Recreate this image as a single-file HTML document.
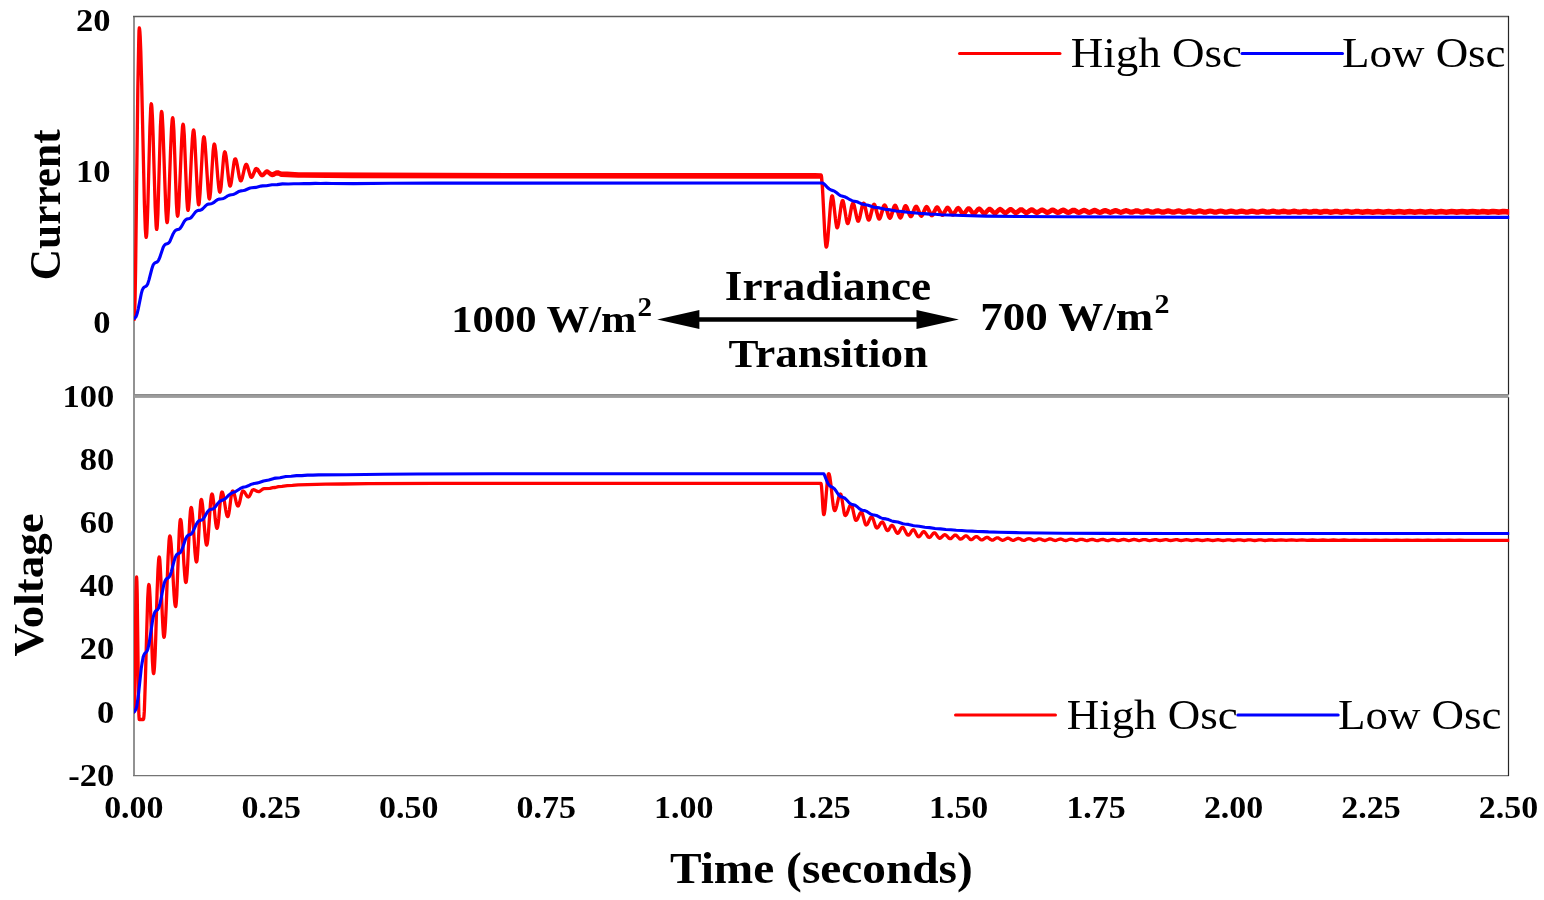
<!DOCTYPE html>
<html><head><meta charset="utf-8"><title>Current and Voltage vs Time</title>
<style>html,body{margin:0;padding:0;background:#fff;overflow:hidden;}svg{display:block;}</style>
</head><body>
<svg width="1544" height="900" viewBox="0 0 1544 900">
<rect width="1544" height="900" fill="#fff"/>
<defs><clipPath id="ct"><rect x="134" y="17" width="1375.2" height="377"/></clipPath><clipPath id="cb"><rect x="134" y="398" width="1375.2" height="377"/></clipPath></defs>
<g fill="none">
<line x1="134" y1="16" x2="134" y2="776" stroke="#929292" stroke-width="2"/>
<line x1="133" y1="16.5" x2="1509" y2="16.5" stroke="#5c5c5c" stroke-width="1.3"/>
<line x1="133" y1="775.6" x2="1509" y2="775.6" stroke="#747474" stroke-width="1.4"/>
<line x1="1508.5" y1="16" x2="1508.5" y2="394.7" stroke="#262626" stroke-width="1.2"/>
<line x1="1508.5" y1="397.1" x2="1508.5" y2="776" stroke="#262626" stroke-width="1.2"/>
<rect x="134" y="394.1" width="1374.5" height="3.8" fill="#9c9c9c" stroke="none"/>
<line x1="134" y1="394.6" x2="1508" y2="394.6" stroke="#888" stroke-width="1"/>
</g>
<g clip-path="url(#ct)" fill="none" stroke-linejoin="round" stroke-linecap="round">
<path d="M134.3 318.9L134.7 310.3L135.1 297.0L135.6 268.9L137.8 89.9L138.7 42.8L139.0 30.6L139.3 27.9L139.6 28.9L139.9 31.8L140.2 36.6L140.8 51.4L141.7 84.4L144.4 203.8L145.3 228.3L145.9 236.0L146.2 236.9L146.5 235.9L146.8 232.9L147.3 221.4L147.9 203.7L149.9 127.5L150.7 107.8L151.0 104.8L151.3 103.8L151.6 104.7L151.9 107.5L152.5 118.4L153.1 135.0L155.2 206.6L156.1 225.2L156.4 228.0L156.7 228.9L157.0 228.0L157.3 225.0L157.9 213.6L160.4 126.9L161.0 115.5L161.3 112.5L161.6 111.5L161.9 112.3L162.2 114.5L163.0 129.4L165.1 189.0L165.9 210.4L166.5 219.1L166.8 221.3L167.1 222.1L167.4 221.3L167.7 219.2L168.6 205.2L170.6 149.0L171.5 128.7L172.1 120.6L172.4 118.5L172.7 117.8L173.0 118.6L173.3 121.1L173.9 130.5L176.4 202.9L177.0 212.3L177.3 214.8L177.6 215.7L177.9 215.0L178.2 213.2L178.8 206.0L179.6 188.3L181.7 139.0L182.5 126.7L182.8 124.9L183.1 124.2L183.4 125.0L183.7 127.1L184.3 135.4L186.8 198.7L187.4 207.0L187.7 209.1L188.0 209.8L188.3 209.3L188.6 207.7L189.5 197.0L191.5 153.9L192.4 138.4L193.0 132.1L193.3 130.5L193.6 129.9L193.9 130.6L194.2 132.5L194.8 139.6L197.5 194.6L198.1 201.7L198.4 203.6L198.7 204.2L199.0 203.7L199.3 202.2L200.1 192.2L202.2 153.6L202.7 144.6L203.3 138.8L203.6 137.3L203.9 136.8L204.2 137.2L204.5 138.4L205.1 143.3L205.9 155.2L208.0 188.5L208.8 196.8L209.1 198.0L209.4 198.4L209.7 198.0L210.0 196.6L210.6 191.4L213.1 151.1L213.7 145.9L214.0 144.5L214.3 144.1L214.6 144.4L214.9 145.3L215.8 151.7L217.8 177.5L218.7 186.7L219.3 190.5L219.6 191.4L219.9 191.8L220.2 191.4L220.5 190.4L221.1 186.5L223.6 157.1L224.2 153.2L224.5 152.2L224.8 151.8L225.1 152.1L225.4 152.9L226.0 155.8L226.6 160.3L228.6 179.5L229.5 184.5L229.8 185.3L230.1 185.6L230.4 185.3L230.7 184.6L231.3 182.1L234.0 162.2L234.6 159.7L234.9 159.0L235.2 158.8L235.5 158.9L235.8 159.3L236.4 161.0L237.3 165.2L239.3 176.9L240.2 179.9L240.5 180.3L240.8 180.4L241.1 180.3L241.4 180.0L242.0 178.6L242.6 176.4L244.7 167.2L245.6 164.8L245.9 164.5L246.2 164.3L246.8 164.7L247.6 166.5L249.7 173.6L250.2 175.2L250.8 176.3L251.4 176.6L252.0 176.4L252.6 175.6L255.1 169.6L255.7 168.8L256.3 168.5L256.9 168.7L257.8 169.4L260.1 172.9L260.9 174.0L261.5 174.4L262.1 174.5L262.7 174.4L263.3 174.0L265.6 171.5L266.2 171.1L266.8 171.0L267.4 171.0L268.0 171.3L270.7 173.3L271.6 173.7L272.2 173.7L273.3 173.5L275.9 172.2L277.3 171.8L278.5 172.0L280.5 172.9L281.7 173.1L287.1 173.2L298.7 173.8L304.4 173.9L507.8 174.6L815.0 174.7L821.0 174.8L821.3 175.4L821.6 177.0L822.5 187.6L824.5 228.3L825.1 237.8L825.7 244.0L826.0 245.6L826.3 246.1L826.6 245.8L826.9 244.9L827.5 241.3L828.3 232.4L830.6 203.2L831.5 197.0L831.8 196.1L832.1 195.8L832.4 196.0L832.7 196.7L833.5 201.3L835.5 219.0L836.1 223.2L836.6 225.9L836.9 226.5L837.2 226.8L837.5 226.6L837.8 226.0L838.4 223.7L839.0 220.2L841.1 205.2L842.0 201.3L842.3 200.7L842.6 200.5L842.9 200.6L843.2 201.1L844.0 204.4L846.0 217.0L846.6 219.9L847.1 221.8L847.4 222.3L847.7 222.4L848.0 222.3L848.3 221.9L848.9 220.2L849.5 217.6L851.5 206.6L852.4 203.7L852.7 203.3L853.0 203.1L853.3 203.2L853.6 203.6L854.4 206.1L856.5 215.9L857.0 218.1L857.6 219.6L857.9 220.0L858.2 220.1L858.5 220.0L858.8 219.6L859.4 218.1L860.0 215.8L862.1 206.1L863.0 203.6L863.3 203.2L863.6 203.1L863.9 203.2L864.2 203.5L865.0 205.9L867.0 214.9L867.6 217.0L868.1 218.4L868.4 218.7L868.7 218.8L869.0 218.7L869.3 218.4L870.2 216.2L872.3 207.9L872.9 205.9L873.5 204.6L873.8 204.3L874.1 204.2L874.4 204.3L874.7 204.6L875.2 205.8L875.8 207.6L877.8 215.3L878.6 217.3L878.9 217.6L879.2 217.7L879.8 217.3L880.7 215.4L882.8 208.1L883.4 206.4L884.0 205.3L884.6 204.9L885.2 205.3L885.8 206.3L886.4 207.9L888.4 214.7L889.3 216.5L889.9 216.8L890.5 216.5L891.3 214.8L893.4 208.1L893.9 206.6L894.5 205.6L895.1 205.2L895.7 205.5L896.3 206.5L896.9 208.0L898.9 214.4L899.8 216.1L900.4 216.4L901.0 216.1L901.8 214.5L903.9 208.3L904.4 206.9L905.0 205.9L905.6 205.6L906.2 205.9L906.8 206.7L907.4 208.0L909.4 213.4L910.3 214.8L910.9 215.1L911.4 214.8L912.3 213.5L914.4 208.4L914.9 207.2L915.5 206.5L916.1 206.2L916.7 206.4L917.3 207.2L917.9 208.3L919.9 213.1L920.8 214.4L921.4 214.6L921.9 214.4L922.8 213.2L925.4 207.5L926.0 206.8L926.6 206.5L927.2 206.8L927.8 207.4L930.4 212.8L931.3 213.9L931.9 214.1L932.4 213.9L933.3 212.8L935.9 207.7L936.5 207.1L937.1 206.9L937.7 207.1L938.3 207.7L940.9 212.5L941.8 213.5L942.4 213.7L942.9 213.5L943.8 212.6L946.4 208.0L947.0 207.4L947.6 207.2L948.2 207.4L948.8 207.9L951.4 212.3L952.3 213.2L952.9 213.4L953.4 213.2L954.3 212.3L956.9 208.2L957.5 207.7L958.1 207.5L958.7 207.6L959.6 208.5L962.2 212.4L962.8 212.8L963.4 213.0L963.9 212.9L964.5 212.4L967.1 208.7L968.0 207.9L968.6 207.8L969.2 207.9L970.1 208.6L972.7 212.1L973.3 212.5L973.9 212.7L974.4 212.5L975.0 212.1L977.6 208.9L978.5 208.2L979.1 208.0L979.7 208.2L980.6 208.8L983.2 211.9L983.8 212.3L984.4 212.4L984.9 212.3L985.5 211.9L988.1 209.0L989.0 208.4L989.6 208.3L990.2 208.4L991.1 209.0L993.7 211.7L994.3 212.0L994.9 212.1L995.4 212.0L996.0 211.7L998.6 209.1L999.5 208.6L1000.1 208.5L1000.7 208.6L1001.6 209.1L1004.2 211.5L1004.8 211.8L1005.4 211.9L1005.9 211.8L1006.5 211.5L1009.1 209.2L1010.0 208.7L1010.6 208.6L1011.2 208.7L1012.1 209.2L1014.7 211.4L1015.3 211.7L1015.9 211.8L1016.4 211.7L1017.0 211.4L1019.6 209.3L1020.5 208.8L1021.1 208.8L1021.7 208.8L1022.6 209.3L1025.2 211.3L1026.3 211.6L1027.5 211.3L1030.1 209.4L1031.0 209.0L1031.6 208.9L1032.8 209.2L1035.4 211.1L1036.3 211.5L1036.8 211.5L1037.4 211.5L1038.3 211.1L1040.9 209.3L1042.1 209.0L1043.3 209.3L1045.9 211.0L1046.8 211.4L1047.3 211.5L1047.9 211.4L1048.8 211.1L1051.4 209.4L1052.6 209.1L1053.8 209.4L1056.4 211.0L1057.3 211.4L1057.8 211.4L1058.4 211.4L1059.3 211.0L1061.9 209.5L1063.1 209.2L1064.3 209.4L1066.9 211.0L1067.8 211.3L1068.3 211.4L1068.9 211.3L1069.8 211.0L1072.4 209.5L1073.6 209.3L1074.8 209.5L1077.4 211.0L1078.3 211.3L1078.8 211.4L1080.3 211.0L1082.9 209.6L1084.1 209.4L1085.3 209.6L1087.9 211.0L1089.3 211.3L1090.8 211.0L1093.4 209.7L1094.6 209.5L1095.8 209.7L1098.4 211.0L1099.8 211.3L1101.3 211.0L1103.9 209.8L1105.1 209.6L1106.6 209.9L1109.2 211.1L1110.3 211.3L1111.5 211.1L1114.1 209.9L1115.6 209.7L1117.1 209.9L1119.7 211.1L1120.8 211.3L1122.0 211.1L1124.6 210.0L1126.1 209.7L1127.6 210.0L1130.2 211.1L1131.3 211.2L1132.8 211.0L1135.4 210.0L1136.6 209.8L1138.1 210.0L1140.7 211.1L1141.8 211.2L1143.0 211.1L1145.6 210.1L1147.1 209.8L1148.3 210.0L1150.9 211.0L1152.3 211.2L1153.5 211.1L1156.1 210.1L1157.6 209.9L1158.8 210.0L1161.4 211.0L1162.8 211.2L1164.3 211.0L1166.9 210.1L1168.1 209.9L1169.3 210.1L1171.9 211.0L1173.3 211.2L1174.8 211.0L1177.4 210.1L1178.6 209.9L1180.1 210.2L1182.7 211.1L1183.8 211.2L1185.3 211.0L1187.9 210.1L1189.1 210.0L1190.3 210.1L1192.9 211.0L1194.3 211.2L1195.5 211.1L1198.1 210.2L1199.6 210.0L1201.1 210.2L1203.7 211.1L1204.8 211.2L1206.0 211.1L1208.6 210.3L1210.1 210.1L1211.6 210.3L1214.2 211.1L1215.3 211.2L1216.5 211.1L1219.1 210.3L1220.6 210.1L1222.1 210.3L1224.7 211.1L1225.8 211.2L1227.0 211.1L1229.6 210.3L1231.1 210.1L1232.6 210.3L1235.2 211.1L1236.3 211.2L1237.5 211.1L1240.1 210.3L1241.6 210.1L1243.1 210.3L1245.7 211.1L1246.8 211.2L1248.0 211.1L1250.6 210.3L1252.1 210.2L1253.6 210.3L1256.2 211.1L1257.3 211.2L1258.5 211.1L1261.1 210.4L1262.6 210.2L1264.1 210.4L1266.7 211.1L1267.8 211.2L1269.3 211.0L1271.9 210.3L1273.1 210.2L1274.3 210.3L1276.9 211.0L1278.3 211.2L1279.8 211.0L1282.4 210.3L1283.6 210.2L1284.8 210.3L1287.4 211.0L1288.8 211.2L1290.3 211.0L1292.9 210.3L1294.1 210.2L1295.3 210.3L1297.9 211.0L1299.3 211.1L1300.8 211.0L1303.4 210.4L1304.6 210.3L1306.1 210.4L1308.7 211.0L1309.8 211.1L1311.0 211.0L1313.6 210.4L1315.1 210.3L1316.6 210.4L1319.2 211.0L1320.3 211.1L1321.5 211.0L1324.1 210.4L1325.6 210.3L1327.1 210.4L1329.7 211.0L1330.8 211.1L1332.3 211.0L1334.9 210.4L1336.1 210.3L1337.3 210.4L1339.9 211.0L1341.3 211.1L1342.8 211.0L1345.4 210.4L1346.6 210.3L1347.8 210.4L1350.4 211.0L1351.8 211.1L1353.3 211.0L1355.9 210.4L1357.1 210.3L1358.3 210.4L1360.9 211.0L1362.3 211.1L1367.6 210.4L1372.8 211.1L1378.1 210.4L1383.3 211.1L1388.6 210.4L1393.8 211.1L1399.1 210.4L1404.3 211.1L1409.6 210.4L1414.8 211.1L1420.1 210.4L1425.3 211.1L1430.6 210.4L1435.8 211.1L1441.1 210.4L1446.3 211.1L1451.6 210.4L1456.8 211.0L1462.1 210.4L1467.3 211.0L1472.6 210.4L1477.6 211.0L1479.0 211.0L1481.6 210.5L1483.1 210.4L1488.1 211.0L1489.5 210.9L1492.1 210.5L1493.6 210.4L1498.6 211.0L1500.0 210.9L1502.6 210.5L1504.1 210.4L1509.3 211.0L1509.3 213.3L1504.1 212.7L1502.6 212.8L1500.0 213.2L1498.6 213.3L1493.6 212.7L1492.1 212.8L1489.5 213.2L1488.1 213.3L1483.1 212.7L1481.6 212.8L1479.0 213.2L1477.6 213.3L1472.6 212.7L1467.3 213.3L1462.1 212.7L1456.8 213.3L1451.6 212.7L1446.3 213.3L1441.1 212.6L1435.8 213.3L1430.6 212.6L1425.3 213.3L1420.1 212.6L1414.8 213.3L1409.6 212.6L1404.3 213.3L1399.1 212.6L1393.8 213.3L1388.6 212.6L1383.3 213.3L1378.1 212.5L1372.8 213.3L1367.6 212.5L1362.3 213.3L1361.2 213.2L1358.6 212.6L1357.1 212.5L1355.6 212.6L1353.0 213.2L1351.8 213.3L1350.7 213.2L1348.1 212.6L1346.6 212.5L1345.1 212.6L1342.5 213.2L1341.3 213.3L1340.2 213.2L1337.6 212.6L1336.1 212.4L1334.6 212.6L1332.0 213.2L1330.8 213.3L1329.4 213.1L1326.8 212.5L1325.6 212.4L1324.4 212.5L1321.8 213.1L1320.3 213.3L1318.9 213.1L1316.3 212.5L1315.1 212.4L1313.9 212.5L1311.3 213.1L1309.8 213.2L1308.4 213.1L1305.8 212.5L1304.6 212.4L1303.1 212.5L1300.5 213.1L1299.3 213.2L1298.2 213.1L1295.6 212.5L1294.1 212.3L1292.6 212.5L1290.0 213.1L1288.8 213.2L1287.7 213.1L1285.1 212.5L1283.6 212.3L1282.1 212.5L1279.5 213.1L1278.3 213.2L1277.2 213.1L1274.6 212.4L1273.1 212.3L1271.6 212.4L1269.0 213.1L1267.8 213.2L1266.4 213.1L1263.8 212.3L1262.6 212.2L1261.4 212.3L1258.8 213.0L1257.3 213.2L1255.9 213.0L1253.3 212.3L1252.1 212.2L1250.9 212.3L1248.3 213.0L1246.8 213.2L1245.4 213.0L1242.8 212.3L1241.6 212.2L1240.4 212.3L1237.8 213.0L1236.3 213.2L1234.9 213.0L1232.3 212.3L1231.1 212.1L1229.9 212.3L1227.3 213.0L1225.8 213.2L1224.4 213.0L1221.8 212.2L1220.6 212.1L1219.4 212.2L1216.8 213.0L1215.3 213.2L1213.9 213.0L1211.3 212.2L1210.1 212.1L1208.9 212.2L1206.3 213.0L1204.8 213.2L1203.4 213.0L1200.8 212.2L1199.6 212.0L1198.1 212.2L1195.5 213.1L1194.3 213.2L1192.9 213.0L1190.3 212.1L1189.1 212.0L1187.9 212.1L1185.3 213.0L1183.8 213.2L1182.7 213.1L1180.1 212.2L1178.6 211.9L1177.4 212.1L1174.8 213.0L1173.3 213.2L1171.9 213.0L1169.3 212.1L1168.1 211.9L1166.9 212.1L1164.3 213.0L1162.8 213.2L1161.4 213.0L1158.8 212.0L1157.6 211.9L1156.1 212.1L1153.5 213.1L1152.3 213.2L1150.9 213.0L1148.3 212.0L1147.1 211.8L1145.6 212.1L1143.0 213.1L1141.8 213.2L1140.7 213.1L1138.1 212.0L1136.6 211.8L1135.4 212.0L1132.8 213.0L1131.3 213.2L1129.9 213.0L1127.3 211.9L1126.1 211.7L1124.9 211.9L1122.3 213.0L1120.8 213.3L1119.4 213.0L1116.8 211.9L1115.6 211.7L1114.4 211.9L1111.8 213.0L1110.3 213.3L1108.9 213.0L1106.3 211.8L1105.1 211.6L1103.6 211.9L1101.0 213.2L1099.8 213.4L1098.7 213.2L1096.1 211.9L1094.6 211.6L1093.1 211.9L1090.5 213.2L1089.3 213.4L1088.2 213.2L1085.6 211.8L1084.1 211.5L1082.6 211.8L1080.0 213.2L1078.8 213.5L1077.7 213.2L1075.1 211.8L1074.2 211.5L1073.6 211.4L1073.0 211.5L1072.1 211.8L1069.5 213.2L1068.3 213.5L1067.2 213.2L1064.6 211.7L1063.7 211.3L1063.1 211.3L1062.5 211.3L1061.6 211.7L1059.0 213.2L1057.8 213.5L1056.7 213.2L1054.1 211.5L1053.2 211.2L1052.6 211.1L1052.0 211.2L1051.1 211.5L1048.5 213.2L1047.3 213.5L1046.2 213.2L1043.6 211.4L1042.7 211.0L1042.1 211.0L1041.5 211.0L1040.6 211.4L1038.0 213.2L1036.8 213.5L1035.7 213.2L1033.1 211.3L1032.2 210.9L1031.6 210.8L1030.4 211.1L1027.8 213.1L1026.9 213.5L1026.3 213.5L1025.8 213.5L1024.9 213.0L1022.3 211.0L1021.1 210.6L1020.5 210.7L1019.9 211.0L1017.3 213.1L1016.4 213.5L1015.9 213.6L1015.3 213.5L1014.4 213.0L1011.8 210.8L1011.2 210.6L1010.6 210.5L1010.0 210.6L1009.4 210.9L1006.8 213.1L1005.9 213.6L1005.4 213.7L1004.8 213.6L1003.9 213.1L1001.3 210.7L1000.7 210.4L1000.1 210.3L999.5 210.4L998.9 210.7L996.3 213.3L995.4 213.8L994.9 213.9L994.3 213.8L993.4 213.2L990.8 210.5L990.2 210.2L989.6 210.1L989.0 210.2L988.4 210.5L985.8 213.4L984.9 214.0L984.4 214.1L983.8 214.0L982.9 213.4L980.3 210.3L979.7 209.9L979.1 209.8L978.5 209.9L977.9 210.3L975.3 213.6L974.4 214.3L973.9 214.4L973.3 214.3L972.4 213.6L969.8 210.1L969.2 209.7L968.6 209.5L968.0 209.7L967.4 210.1L964.8 213.8L963.9 214.6L963.4 214.7L962.8 214.6L961.9 213.8L959.3 209.9L958.7 209.4L958.1 209.2L957.5 209.4L956.6 210.3L954.0 214.4L953.4 214.9L952.9 215.1L952.3 214.9L951.7 214.4L949.1 210.0L948.2 209.1L947.6 208.9L947.0 209.1L946.1 210.1L943.5 214.7L942.9 215.2L942.4 215.4L941.8 215.2L941.2 214.6L938.6 209.8L937.7 208.8L937.1 208.6L936.5 208.8L935.6 209.9L933.0 215.0L932.4 215.6L931.9 215.8L931.3 215.6L930.7 214.9L928.1 209.6L927.2 208.4L926.6 208.2L926.0 208.5L925.1 209.7L922.5 215.3L921.9 216.0L921.4 216.3L920.8 216.0L920.2 215.3L919.6 214.2L917.6 209.3L916.7 208.1L916.1 207.8L915.5 208.1L914.6 209.4L912.6 214.5L912.0 215.7L911.4 216.5L910.9 216.7L910.3 216.4L909.7 215.6L909.1 214.4L907.1 208.9L906.2 207.5L905.6 207.2L905.0 207.5L904.2 209.1L902.1 215.3L901.6 216.7L901.0 217.7L900.4 218.0L899.8 217.7L899.2 216.7L898.6 215.2L896.6 208.8L895.7 207.1L895.1 206.8L894.5 207.1L893.7 208.9L891.6 215.5L891.1 217.0L890.5 218.0L889.9 218.4L889.3 218.0L888.7 217.0L888.1 215.4L886.1 208.6L885.2 206.8L884.6 206.5L884.3 206.5L884.0 206.8L883.1 208.7L881.0 216.0L880.4 217.6L879.8 218.7L879.5 219.0L879.2 219.1L878.9 219.0L878.6 218.7L878.1 217.5L877.5 215.7L875.5 208.0L874.7 206.0L874.4 205.7L874.1 205.6L873.8 205.7L873.5 206.0L872.6 208.2L870.5 216.5L869.9 218.5L869.3 219.7L869.0 220.1L868.7 220.2L868.4 220.0L868.1 219.7L867.3 217.3L865.3 208.3L864.7 206.2L864.2 204.8L863.9 204.5L863.6 204.3L863.3 204.5L863.0 204.8L862.4 206.3L861.8 208.6L859.7 218.3L858.8 220.8L858.5 221.2L858.2 221.3L857.9 221.2L857.6 220.8L856.8 218.3L854.7 208.5L854.2 206.3L853.6 204.8L853.3 204.4L853.0 204.3L852.7 204.4L852.4 204.9L851.8 206.5L851.2 209.1L849.2 220.1L848.3 223.0L848.0 223.4L847.7 223.6L847.4 223.4L847.1 222.9L846.3 219.6L844.3 207.0L843.7 204.1L843.2 202.2L842.9 201.7L842.6 201.5L842.3 201.7L842.0 202.3L841.4 204.6L840.8 208.1L838.7 223.1L837.8 227.0L837.5 227.6L837.2 227.8L836.9 227.6L836.6 226.9L835.8 222.3L833.8 204.6L833.2 200.4L832.7 197.7L832.4 197.0L832.1 196.8L831.8 197.1L831.5 198.0L830.9 201.6L830.1 210.5L827.8 239.7L826.9 245.9L826.6 246.8L826.3 247.1L826.0 246.6L825.7 245.0L824.8 234.5L822.8 194.3L822.2 185.0L821.6 178.9L821.3 177.3L821.0 176.8L815.0 177.0L515.9 176.9L351.6 176.5L303.8 176.2L298.4 176.1L287.4 175.6L281.7 175.4L280.5 175.1L278.5 174.1L277.3 173.9L275.9 174.1L273.3 175.4L272.5 175.5L271.9 175.5L270.7 175.0L268.0 172.8L266.8 172.4L266.2 172.6L265.6 172.9L263.3 175.3L262.7 175.6L262.1 175.8L261.5 175.6L260.7 174.8L258.3 171.2L257.5 170.1L256.9 169.6L256.3 169.5L255.7 169.7L255.1 170.5L252.6 176.3L252.0 177.1L251.4 177.4L250.8 177.0L250.0 175.1L247.9 168.0L247.4 166.3L246.8 165.2L246.2 164.9L245.9 165.0L245.6 165.3L245.0 166.7L244.4 168.9L242.3 178.1L241.4 180.5L241.1 180.8L240.8 180.9L240.5 180.8L240.2 180.4L239.3 177.4L237.3 165.7L236.4 161.5L235.8 159.8L235.5 159.4L235.2 159.2L234.9 159.5L234.6 160.2L234.0 162.7L231.3 182.6L230.7 185.1L230.4 185.8L230.1 186.1L229.8 185.8L229.5 185.0L228.6 180.0L226.6 160.8L226.0 156.3L225.4 153.4L225.1 152.6L224.8 152.3L224.5 152.7L224.2 153.7L223.6 157.6L221.1 187.0L220.5 190.9L220.2 191.9L219.9 192.2L219.6 191.9L219.3 191.0L218.7 187.2L217.8 178.0L215.8 152.2L214.9 145.8L214.6 144.9L214.3 144.6L214.0 145.0L213.7 146.4L213.1 151.6L210.6 191.9L210.0 197.1L209.7 198.5L209.4 198.9L209.1 198.5L208.8 197.3L208.0 189.0L205.9 155.7L205.1 143.8L204.5 138.9L204.2 137.7L203.9 137.2L203.6 137.8L203.3 139.3L202.7 145.1L202.2 154.1L200.1 192.7L199.3 202.7L199.0 204.2L198.7 204.8L198.4 204.1L198.1 202.2L197.5 195.1L194.8 140.1L194.2 133.0L193.9 131.1L193.6 130.4L193.3 131.0L193.0 132.6L192.4 138.9L191.5 154.4L189.5 197.5L188.6 208.2L188.3 209.8L188.0 210.3L187.7 209.6L187.4 207.5L186.8 199.2L184.3 135.9L183.7 127.6L183.4 125.5L183.1 124.8L182.8 125.4L182.5 127.2L181.7 139.5L179.6 188.8L178.8 206.5L178.2 213.7L177.9 215.5L177.6 216.2L177.3 215.3L177.0 212.8L176.4 203.4L173.9 131.0L173.3 121.6L173.0 119.1L172.7 118.2L172.4 119.0L172.1 121.1L171.5 129.2L170.6 149.5L168.6 205.7L167.7 219.7L167.4 221.8L167.1 222.6L166.8 221.8L166.5 219.6L165.9 210.9L165.1 189.5L163.0 129.9L162.2 115.0L161.9 112.8L161.6 112.0L161.3 113.0L161.0 116.0L160.4 127.4L157.9 214.1L157.3 225.5L157.0 228.5L156.7 229.4L156.4 228.5L156.1 225.7L155.2 207.1L153.1 135.5L152.5 118.9L151.9 108.0L151.6 105.2L151.3 104.2L151.0 105.3L150.7 108.3L149.9 128.0L147.9 204.2L147.3 221.9L146.8 233.4L146.5 236.4L146.2 237.4L145.9 236.5L145.3 228.8L144.4 204.3L141.7 84.9L140.8 51.9L140.2 37.1L139.9 32.3L139.6 29.4L139.3 28.4L139.0 31.1L138.7 43.3L137.8 90.4L135.6 269.4L135.1 297.5L134.7 310.8L134.3 319.4Z" fill="#ff0000" stroke="#ff0000" stroke-width="3.30"/>
<path d="M134.0 318.4L135.0 317.8L135.8 317.0L136.5 315.6L137.2 313.3L138.2 309.1L140.8 296.1L141.5 292.8L142.2 290.3L142.8 289.1L143.5 287.8L144.2 287.1L145.8 286.4L146.5 285.8L147.2 284.8L147.8 283.7L148.2 282.4L149.0 279.9L151.8 269.0L152.5 266.7L153.2 264.9L153.8 264.0L154.5 263.2L155.2 262.7L156.5 262.3L157.2 261.9L158.0 261.1L158.5 260.3L159.0 259.3L159.8 257.4L162.8 248.4L163.5 246.7L164.2 245.5L164.8 244.9L165.5 244.3L167.8 243.6L168.5 243.1L169.0 242.6L169.5 242.0L170.2 240.7L173.2 233.7L174.5 231.5L175.2 230.7L176.0 230.1L176.8 229.8L178.8 229.3L179.5 228.9L180.0 228.5L181.2 226.9L184.2 221.5L185.0 220.5L185.8 219.7L186.2 219.4L187.0 219.0L189.5 218.5L190.2 218.2L190.8 217.9L192.0 216.6L194.8 212.9L195.5 212.0L196.2 211.3L197.5 210.6L198.2 210.4L200.5 210.1L201.8 209.5L203.0 208.5L205.8 205.6L207.2 204.5L208.5 204.1L211.0 203.8L212.2 203.4L213.5 202.7L216.5 200.3L218.0 199.4L219.2 199.1L222.0 198.8L223.5 198.4L224.8 197.8L227.2 196.2L228.5 195.5L230.0 195.0L232.8 194.5L234.0 194.2L235.2 193.6L238.2 191.8L239.5 191.3L240.8 190.9L243.5 190.5L244.8 190.2L246.0 189.7L248.8 188.5L250.2 188.0L251.8 187.8L255.8 187.4L261.0 186.1L262.5 185.9L266.5 185.7L272.0 184.8L277.2 184.6L282.5 183.9L288.2 184.0L293.8 183.7L299.0 183.8L304.2 183.6L309.8 183.6L315.5 183.4L320.5 183.5L326.0 183.4L331.5 183.5L353.5 183.6L390.8 183.2L434.5 183.1L821.5 183.0L822.8 183.1L823.5 183.5L824.8 184.7L827.8 187.8L829.2 189.0L830.5 189.7L833.2 190.7L834.8 191.4L836.0 192.3L838.8 194.5L840.2 195.5L841.8 196.1L844.5 196.8L845.8 197.3L847.2 198.0L850.0 199.7L851.5 200.4L853.0 200.9L855.8 201.5L857.0 201.8L858.2 202.3L861.2 203.7L863.0 204.3L868.2 205.3L872.5 206.7L874.2 207.2L879.5 207.9L885.0 209.3L890.5 209.9L896.2 211.0L901.8 211.5L907.5 212.3L913.0 212.7L918.5 213.3L924.0 213.6L929.8 214.1L935.2 214.3L940.8 214.7L963.2 215.5L986.0 216.1L1019.2 216.5L1064.2 216.8L1131.0 217.0L1220.5 217.2L1509.0 217.4" stroke="#0000ff" stroke-width="3.10"/>
</g>
<g clip-path="url(#cb)" fill="none" stroke-linejoin="round" stroke-linecap="round">
<path d="M134.0 712.0L134.3 707.9L134.6 696.2L136.0 592.8L136.3 581.1L136.6 577.0L136.9 581.3L137.2 593.7L138.3 683.9L138.6 702.8L138.9 715.2L139.2 719.5L143.4 719.5L143.7 718.6L144.0 715.8L144.3 711.4L144.8 697.7L145.4 679.1L146.9 624.9L147.7 598.7L148.3 588.2L148.6 585.4L148.9 584.5L149.2 585.4L149.5 587.9L150.1 597.5L152.4 660.6L153.0 670.2L153.3 672.7L153.6 673.6L153.9 672.8L154.2 670.4L154.5 666.6L155.1 654.8L155.7 638.7L157.1 591.9L158.0 569.3L158.6 560.2L158.9 557.8L159.2 557.0L159.5 557.7L159.8 559.7L160.3 567.5L160.9 579.3L162.3 615.0L162.9 626.8L163.4 634.6L163.7 636.6L164.0 637.3L164.3 636.7L164.6 634.8L164.9 631.8L165.5 622.5L166.1 609.6L168.1 556.9L169.0 541.5L169.3 538.5L169.6 536.6L169.9 536.0L170.2 536.5L170.5 537.9L171.1 543.4L172.0 557.1L173.5 585.4L174.1 595.1L174.7 602.3L175.0 604.6L175.3 606.0L175.6 606.5L175.9 605.8L176.2 603.6L176.8 595.1L177.3 582.4L178.8 543.6L179.3 530.9L179.9 522.4L180.2 520.2L180.5 519.5L180.8 519.9L181.1 521.2L181.4 523.3L181.9 529.7L182.5 538.3L183.9 563.7L184.8 575.9L185.3 580.8L185.6 582.1L185.9 582.5L186.2 581.9L186.5 580.2L187.1 573.7L187.7 563.8L189.7 520.9L190.3 512.5L190.6 509.8L190.9 508.1L191.2 507.5L191.5 507.9L191.8 509.1L192.4 513.9L193.0 521.1L195.0 552.3L195.6 558.3L195.9 560.4L196.2 561.6L196.5 562.0L196.8 561.5L197.1 559.9L197.6 553.8L198.2 544.7L199.9 511.9L200.5 504.2L200.7 501.6L201.0 500.0L201.3 499.5L201.6 499.8L201.9 500.9L202.5 504.8L203.1 510.9L205.2 536.9L205.8 542.0L206.1 543.6L206.4 544.7L206.7 545.0L207.0 544.6L207.3 543.5L207.9 539.0L208.5 532.2L210.5 503.1L211.1 497.4L211.4 495.5L211.7 494.4L212.0 494.0L212.3 494.3L212.6 495.2L212.9 496.6L213.8 503.5L215.2 518.8L215.8 523.8L216.4 527.1L216.7 528.0L217.0 528.3L217.3 528.0L217.6 527.1L218.2 523.6L218.8 518.2L220.2 502.1L220.8 496.7L221.4 493.2L221.7 492.3L222.0 492.0L222.3 492.2L222.6 492.7L223.2 494.6L224.1 499.4L225.6 509.2L226.2 512.6L226.8 515.1L227.1 515.9L227.4 516.4L227.7 516.6L228.0 516.4L228.3 515.7L228.9 513.3L229.5 509.5L230.9 498.1L231.5 494.3L232.1 491.9L232.4 491.2L232.7 491.0L233.0 491.1L233.3 491.5L233.6 492.0L234.2 493.7L236.2 502.2L236.8 504.2L237.4 505.5L237.7 505.9L238.0 506.0L238.3 505.9L238.6 505.5L239.2 504.0L239.8 501.8L241.2 495.2L241.8 493.0L242.4 491.5L242.7 491.1L243.0 491.0L243.6 491.2L244.2 491.7L244.8 492.5L246.8 495.9L247.7 496.8L248.3 497.0L248.9 496.8L249.5 496.0L250.1 495.0L251.8 491.2L252.4 490.2L253.0 489.8L253.6 489.7L254.2 489.8L255.1 490.2L257.5 491.4L258.4 491.6L259.0 491.6L259.9 491.3L262.5 489.2L263.1 488.9L263.7 488.7L269.9 488.3L272.8 487.7L275.2 487.5L278.4 486.7L282.0 486.4L287.3 485.7L292.4 485.4L298.2 484.9L307.5 484.7L325.5 484.1L342.6 484.0L368.3 483.7L435.0 483.4L820.9 483.4L821.2 484.2L821.5 486.4L822.1 494.2L822.9 508.2L823.2 511.6L823.5 513.8L823.8 514.6L824.1 514.3L824.4 513.2L825.0 509.2L825.5 503.2L827.0 485.0L827.5 479.0L828.1 475.0L828.4 473.9L828.7 473.6L829.0 473.8L829.3 474.5L829.9 477.1L830.8 483.7L832.3 497.8L833.2 505.2L833.8 508.6L834.1 509.7L834.4 510.4L834.7 510.6L835.0 510.5L835.3 510.2L835.9 508.8L836.8 505.6L838.3 499.0L838.9 496.7L839.5 495.0L839.8 494.4L840.1 494.1L840.4 494.0L840.7 494.2L841.0 494.7L841.6 496.8L842.1 500.0L843.6 509.5L844.1 512.7L844.7 514.8L845.0 515.3L845.3 515.5L845.9 515.2L846.2 514.9L846.8 513.9L847.6 511.8L849.1 507.6L849.9 505.7L850.5 505.0L851.1 504.7L851.4 504.8L851.7 505.2L852.3 506.7L852.8 509.1L854.6 517.3L855.1 519.2L855.4 519.9L855.7 520.3L856.0 520.4L856.3 520.3L856.6 520.2L857.2 519.5L857.8 518.4L859.8 513.7L860.4 512.8L860.7 512.5L861.3 512.3L861.6 512.4L861.9 512.7L862.5 514.0L863.0 515.8L864.8 522.5L865.3 524.0L865.9 524.9L866.2 525.0L866.5 524.9L866.8 524.8L867.4 524.1L868.0 523.0L870.1 518.4L870.7 517.5L871.0 517.2L871.6 517.0L871.9 517.1L872.2 517.3L872.8 518.3L873.4 519.8L875.4 526.0L876.0 527.3L876.6 527.9L876.9 528.0L877.2 528.0L877.5 527.8L878.1 527.3L878.7 526.5L880.7 523.1L881.6 522.2L882.2 522.0L882.8 522.3L883.4 523.0L884.0 524.1L886.1 529.1L886.7 530.0L887.3 530.5L887.6 530.6L887.9 530.5L888.5 530.1L889.0 529.3L890.5 526.7L891.0 525.9L891.6 525.5L892.2 525.4L892.8 525.8L893.7 527.0L895.7 531.1L896.6 532.5L897.2 533.1L897.5 533.3L898.1 533.2L898.4 533.1L898.9 532.4L901.0 528.6L901.5 527.8L902.1 527.4L902.7 527.3L903.3 527.7L903.9 528.5L904.5 529.5L906.5 533.6L907.1 534.4L907.7 535.0L908.3 535.2L908.6 535.2L909.2 534.8L910.1 533.7L911.5 531.2L912.1 530.4L912.7 529.9L913.3 529.7L913.9 529.9L914.7 530.8L916.7 534.7L917.6 536.1L918.1 536.6L918.7 536.8L919.3 536.6L919.9 536.1L922.6 532.3L923.2 531.8L923.8 531.6L924.4 531.8L924.9 532.2L925.8 533.4L927.8 536.5L928.6 537.3L929.2 537.5L929.8 537.3L930.4 536.9L933.1 533.4L933.7 533.0L934.3 532.8L934.9 532.9L935.7 533.7L937.7 536.7L938.6 537.7L939.1 538.2L939.7 538.3L940.3 538.2L940.9 537.8L943.6 535.2L944.2 534.8L944.8 534.7L945.4 534.8L945.9 535.1L946.8 535.9L948.8 538.1L949.3 538.5L949.9 538.7L950.5 538.7L951.1 538.4L952.0 537.7L954.1 535.6L954.7 535.2L955.3 535.1L955.9 535.2L956.4 535.5L957.3 536.3L959.3 538.5L959.8 538.9L960.4 539.1L961.0 539.1L961.9 538.7L964.5 536.4L965.4 535.9L966.0 535.8L966.5 535.9L967.1 536.2L967.7 536.8L969.7 538.9L970.3 539.4L970.9 539.6L971.5 539.6L972.4 539.3L975.0 537.1L975.9 536.7L976.5 536.6L977.0 536.7L977.6 537.0L980.2 539.3L980.8 539.7L981.4 539.9L982.0 539.9L982.9 539.6L985.5 537.8L986.4 537.4L987.0 537.3L987.5 537.4L988.1 537.6L990.7 539.6L991.6 540.0L992.2 540.1L992.8 540.1L993.4 539.9L996.0 538.2L996.9 537.9L997.5 537.8L998.0 537.9L998.6 538.1L1001.2 539.8L1001.8 540.1L1002.4 540.3L1003.0 540.3L1003.9 540.0L1006.5 538.6L1007.4 538.2L1008.0 538.2L1008.5 538.2L1009.1 538.4L1011.7 540.0L1012.9 540.3L1013.5 540.3L1014.4 540.1L1017.0 538.8L1017.9 538.5L1018.5 538.4L1019.0 538.5L1019.9 538.8L1022.5 540.2L1023.7 540.4L1024.3 540.4L1025.2 540.1L1027.8 538.8L1029.0 538.6L1030.1 538.8L1032.7 540.1L1033.6 540.4L1034.2 540.5L1034.8 540.4L1035.7 540.2L1038.3 539.0L1039.5 538.8L1040.6 539.0L1043.2 540.2L1044.1 540.4L1044.7 540.5L1045.9 540.3L1048.5 539.2L1049.4 538.9L1050.0 538.9L1051.1 539.1L1053.7 540.2L1054.9 540.5L1055.5 540.5L1056.4 540.3L1059.0 539.3L1059.9 539.1L1060.5 539.0L1061.6 539.2L1064.2 540.3L1065.1 540.5L1065.7 540.5L1067.2 540.3L1069.8 539.3L1071.0 539.2L1072.1 539.3L1074.7 540.3L1076.2 540.6L1077.7 540.3L1080.3 539.4L1081.5 539.3L1082.9 539.5L1085.5 540.4L1086.7 540.6L1087.9 540.5L1090.5 539.6L1092.0 539.4L1093.1 539.5L1095.7 540.4L1097.2 540.6L1098.4 540.5L1101.0 539.6L1102.5 539.4L1103.6 539.5L1106.2 540.4L1107.7 540.6L1108.9 540.5L1111.5 539.7L1113.0 539.5L1114.4 539.7L1117.0 540.5L1118.2 540.6L1119.7 540.4L1122.3 539.6L1123.5 539.5L1124.9 539.7L1127.5 540.4L1128.7 540.6L1130.2 540.4L1132.8 539.7L1134.0 539.5L1135.4 539.7L1138.0 540.4L1139.2 540.6L1140.4 540.4L1143.0 539.7L1144.5 539.6L1145.6 539.7L1148.2 540.4L1149.7 540.6L1150.9 540.4L1153.5 539.8L1155.0 539.6L1156.1 539.7L1158.7 540.4L1160.2 540.5L1161.4 540.4L1164.0 539.8L1165.5 539.6L1166.6 539.7L1169.2 540.4L1170.7 540.5L1171.9 540.4L1174.5 539.8L1176.0 539.6L1177.1 539.7L1179.7 540.4L1181.2 540.5L1182.4 540.4L1185.0 539.8L1186.5 539.7L1187.9 539.8L1190.5 540.4L1191.7 540.5L1192.9 540.4L1195.5 539.8L1197.0 539.7L1198.4 539.8L1201.0 540.4L1202.2 540.5L1203.7 540.4L1206.3 539.8L1207.5 539.7L1208.9 539.9L1211.5 540.4L1212.7 540.5L1214.2 540.4L1216.8 539.8L1218.0 539.7L1219.1 539.8L1221.7 540.3L1223.2 540.5L1224.7 540.4L1227.3 539.9L1228.5 539.8L1229.6 539.9L1232.2 540.3L1233.7 540.5L1234.9 540.4L1237.5 539.9L1239.0 539.8L1240.4 539.9L1243.0 540.4L1244.2 540.5L1245.4 540.4L1248.0 539.9L1249.5 539.8L1250.6 539.9L1253.2 540.3L1254.7 540.5L1256.2 540.3L1258.8 539.9L1260.0 539.8L1261.1 539.9L1263.7 540.3L1265.2 540.5L1266.4 540.4L1269.0 540.0L1270.5 539.9L1271.9 540.0L1274.5 540.4L1275.7 540.4L1281.0 539.9L1286.2 540.4L1291.5 539.9L1296.7 540.4L1302.0 539.9L1307.2 540.4L1312.5 540.0L1317.7 540.4L1323.0 540.0L1328.2 540.4L1333.5 540.0L1338.7 540.4L1344.0 540.0L1349.2 540.4L1354.5 540.1L1359.7 540.4L1365.0 540.1L1370.2 540.4L1375.5 540.1L1380.7 540.4L1386.0 540.1L1391.2 540.4L1396.5 540.1L1401.7 540.3L1407.0 540.2L1412.2 540.3L1417.5 540.2L1422.7 540.3L1428.0 540.2L1433.2 540.3L1438.5 540.2L1443.7 540.3L1449.0 540.2L1454.2 540.3L1459.5 540.2L1464.7 540.3L1512.0 540.3" stroke="#ff0000" stroke-width="3.30"/>
<path d="M134.0 712.0L134.2 711.9L135.2 710.6L136.0 709.0L136.8 706.2L137.2 703.6L138.5 694.2L141.2 668.9L142.0 663.4L142.8 659.1L143.2 656.9L144.0 654.7L144.8 653.4L146.2 652.1L147.0 651.0L147.8 649.2L148.2 647.4L148.8 645.2L149.5 641.0L152.5 621.1L153.2 617.2L154.0 614.3L154.5 612.9L155.2 611.5L156.0 610.7L157.5 609.7L158.0 609.1L158.8 607.7L159.2 606.4L159.8 604.6L160.5 601.4L163.5 586.2L164.2 583.3L165.0 581.1L165.5 580.1L166.2 579.0L166.8 578.6L168.2 577.8L168.8 577.4L169.5 576.5L170.0 575.6L170.5 574.4L171.2 572.1L174.0 561.4L174.8 558.8L175.5 556.8L176.2 555.3L177.0 554.4L177.8 553.8L179.2 553.2L179.8 553.0L180.5 552.3L181.2 551.1L182.5 548.2L185.2 540.0L186.0 538.2L186.8 536.8L187.2 536.1L188.0 535.4L188.8 534.9L190.8 534.3L191.5 533.7L192.0 533.2L193.2 531.1L196.0 524.8L196.8 523.4L197.5 522.2L198.2 521.4L199.0 520.8L199.8 520.5L201.8 520.0L202.5 519.6L203.2 518.9L204.5 517.1L207.2 512.3L208.5 510.7L209.2 510.0L210.0 509.6L212.8 508.9L214.0 508.3L215.2 507.0L218.0 503.2L219.5 501.6L220.8 500.7L223.5 499.7L224.8 499.0L226.0 498.0L229.0 494.9L230.8 493.6L232.0 492.9L234.8 491.9L236.0 491.3L240.0 488.7L241.5 487.9L243.0 487.3L245.8 486.7L247.0 486.3L248.2 485.8L251.0 484.4L252.5 483.9L254.0 483.5L258.0 482.9L259.2 482.5L263.5 481.0L268.8 479.9L274.0 478.4L275.8 478.1L280.0 477.7L285.8 476.5L291.2 476.2L296.5 475.6L301.8 475.6L307.5 475.1L313.0 475.1L318.5 474.9L346.2 474.8L384.2 474.3L417.5 474.0L494.5 473.8L822.2 473.8L822.5 473.7L823.8 473.7L824.0 474.0L824.5 475.2L827.2 482.0L828.0 483.5L828.8 484.7L829.5 485.6L830.2 486.2L833.0 487.6L834.2 488.6L835.5 490.2L838.0 494.0L839.2 495.5L840.0 496.1L840.8 496.6L843.5 497.5L844.8 498.2L846.0 499.3L848.8 502.3L850.2 503.6L851.5 504.2L854.2 504.9L855.5 505.5L856.8 506.4L859.5 508.8L861.0 509.7L862.2 510.2L864.8 510.6L866.0 511.1L867.2 511.7L870.2 513.8L871.8 514.5L872.8 514.8L875.2 515.2L876.5 515.5L877.8 516.1L880.5 517.6L881.8 518.1L883.2 518.6L886.0 518.9L887.2 519.2L888.5 519.6L891.5 520.9L893.0 521.4L897.8 522.0L903.0 523.7L904.5 524.0L908.5 524.4L912.8 525.5L914.2 525.8L919.2 526.2L924.8 527.3L929.5 527.6L935.0 528.5L940.5 528.9L945.8 529.5L950.8 529.8L956.2 530.3L961.8 530.5L967.0 531.0L972.0 531.1L977.5 531.5L983.0 531.6L988.5 531.9L999.2 532.2L1020.2 532.7L1062.8 533.2L1105.2 533.4L1169.0 533.5L1509.0 533.5" stroke="#0000ff" stroke-width="3.10"/>
</g>
<text transform="translate(110.61 30.50) scale(1.110 1)" font-family="Liberation Serif, serif" font-weight="bold" font-size="31.10" text-anchor="end">20</text>
<text transform="translate(110.61 182.40) scale(1.110 1)" font-family="Liberation Serif, serif" font-weight="bold" font-size="31.10" text-anchor="end">10</text>
<text transform="translate(110.61 333.40) scale(1.110 1)" font-family="Liberation Serif, serif" font-weight="bold" font-size="31.10" text-anchor="end">0</text>
<text transform="translate(114.31 406.60) scale(1.110 1)" font-family="Liberation Serif, serif" font-weight="bold" font-size="31.10" text-anchor="end">100</text>
<text transform="translate(114.31 469.80) scale(1.110 1)" font-family="Liberation Serif, serif" font-weight="bold" font-size="31.10" text-anchor="end">80</text>
<text transform="translate(114.31 533.00) scale(1.110 1)" font-family="Liberation Serif, serif" font-weight="bold" font-size="31.10" text-anchor="end">60</text>
<text transform="translate(114.31 596.20) scale(1.110 1)" font-family="Liberation Serif, serif" font-weight="bold" font-size="31.10" text-anchor="end">40</text>
<text transform="translate(114.31 659.40) scale(1.110 1)" font-family="Liberation Serif, serif" font-weight="bold" font-size="31.10" text-anchor="end">20</text>
<text transform="translate(114.31 722.60) scale(1.110 1)" font-family="Liberation Serif, serif" font-weight="bold" font-size="31.10" text-anchor="end">0</text>
<text transform="translate(114.31 785.80) scale(1.110 1)" font-family="Liberation Serif, serif" font-weight="bold" font-size="31.10" text-anchor="end">-20</text>
<text transform="translate(133.80 818.20) scale(1.080 1)" font-family="Liberation Serif, serif" font-weight="bold" font-size="31.40" text-anchor="middle">0.00</text>
<text transform="translate(271.27 818.20) scale(1.080 1)" font-family="Liberation Serif, serif" font-weight="bold" font-size="31.40" text-anchor="middle">0.25</text>
<text transform="translate(408.74 818.20) scale(1.080 1)" font-family="Liberation Serif, serif" font-weight="bold" font-size="31.40" text-anchor="middle">0.50</text>
<text transform="translate(546.21 818.20) scale(1.080 1)" font-family="Liberation Serif, serif" font-weight="bold" font-size="31.40" text-anchor="middle">0.75</text>
<text transform="translate(683.68 818.20) scale(1.080 1)" font-family="Liberation Serif, serif" font-weight="bold" font-size="31.40" text-anchor="middle">1.00</text>
<text transform="translate(821.15 818.20) scale(1.080 1)" font-family="Liberation Serif, serif" font-weight="bold" font-size="31.40" text-anchor="middle">1.25</text>
<text transform="translate(958.62 818.20) scale(1.080 1)" font-family="Liberation Serif, serif" font-weight="bold" font-size="31.40" text-anchor="middle">1.50</text>
<text transform="translate(1096.09 818.20) scale(1.080 1)" font-family="Liberation Serif, serif" font-weight="bold" font-size="31.40" text-anchor="middle">1.75</text>
<text transform="translate(1233.56 818.20) scale(1.080 1)" font-family="Liberation Serif, serif" font-weight="bold" font-size="31.40" text-anchor="middle">2.00</text>
<text transform="translate(1371.03 818.20) scale(1.080 1)" font-family="Liberation Serif, serif" font-weight="bold" font-size="31.40" text-anchor="middle">2.25</text>
<text transform="translate(1508.50 818.20) scale(1.080 1)" font-family="Liberation Serif, serif" font-weight="bold" font-size="31.40" text-anchor="middle">2.50</text>
<text transform="translate(821.40 882.60) scale(1.076 1)" font-family="Liberation Serif, serif" font-weight="bold" font-size="44.00" text-anchor="middle">Time (seconds)</text>
<text transform="translate(60.20 204.80) rotate(-90) scale(0.985 1)" font-family="Liberation Serif, serif" font-weight="bold" font-size="44.00" text-anchor="middle">Current</text>
<text transform="translate(42.50 585.00) rotate(-90) scale(1.051 1)" font-family="Liberation Serif, serif" font-weight="bold" font-size="42.80" text-anchor="middle">Voltage</text>
<line x1="959.5" y1="53.4" x2="1060.0" y2="53.4" stroke="#ff0000" stroke-width="3" stroke-linecap="round"/>
<line x1="1242.0" y1="53.4" x2="1342.5" y2="53.4" stroke="#0000ff" stroke-width="3" stroke-linecap="round"/>
<text transform="translate(1070.70 67.00) scale(1.092 1)" font-family="Liberation Serif, serif" font-size="41.20" text-anchor="start">High Osc</text>
<text transform="translate(1341.95 67.00) scale(1.092 1)" font-family="Liberation Serif, serif" font-size="41.20" text-anchor="start">Low Osc</text>
<line x1="955.5" y1="715.0" x2="1055.5" y2="715.0" stroke="#ff0000" stroke-width="3" stroke-linecap="round"/>
<line x1="1237.8" y1="715.0" x2="1338.2" y2="715.0" stroke="#0000ff" stroke-width="3" stroke-linecap="round"/>
<text transform="translate(1066.71 728.75) scale(1.091 1)" font-family="Liberation Serif, serif" font-size="41.20" text-anchor="start">High Osc</text>
<text transform="translate(1337.96 728.75) scale(1.091 1)" font-family="Liberation Serif, serif" font-size="41.20" text-anchor="start">Low Osc</text>
<text transform="translate(724.87 300.10) scale(1.086 1)" font-family="Liberation Serif, serif" font-weight="bold" font-size="41.70" text-anchor="start">Irradiance</text>
<text transform="translate(728.60 367.20) scale(1.097 1)" font-family="Liberation Serif, serif" font-weight="bold" font-size="41.10" text-anchor="start">Transition</text>
<text transform="translate(451.29 332.00) scale(1.111 1)" font-family="Liberation Serif, serif" font-weight="bold" font-size="38.40" text-anchor="start">1000 W/m</text>
<text transform="translate(637.58 315.80) scale(1.100 1)" font-family="Liberation Serif, serif" font-weight="bold" font-size="26.40" text-anchor="start">2</text>
<text transform="translate(980.33 330.30) scale(1.101 1)" font-family="Liberation Serif, serif" font-weight="bold" font-size="40.90" text-anchor="start">700 W/m</text>
<text transform="translate(1154.44 312.90) scale(1.100 1)" font-family="Liberation Serif, serif" font-weight="bold" font-size="27.30" text-anchor="start">2</text>
<line x1="695" y1="319.5" x2="920" y2="319.5" stroke="#000" stroke-width="4.6"/>
<polygon points="657.2,319.4 699.4,310 699.4,328.9" fill="#000"/>
<polygon points="958.9,319.4 916.5,310 916.5,328.9" fill="#000"/>
</svg>
</body></html>
